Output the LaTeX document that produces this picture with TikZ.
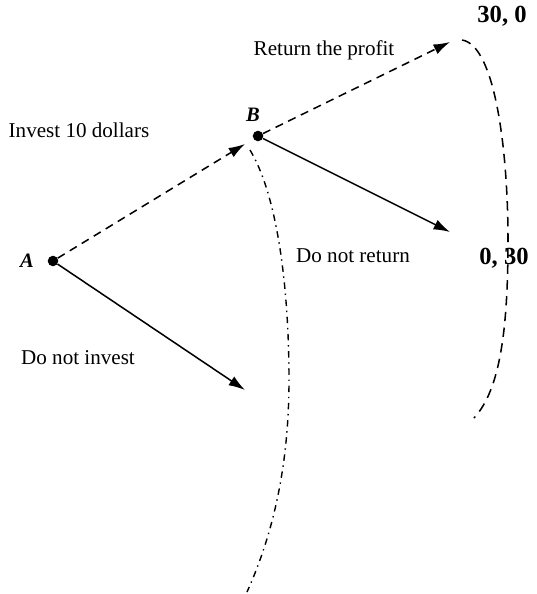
\documentclass[tikz,border=0pt]{standalone}
\usepackage{fontspec}
\setmainfont{Liberation Serif}
\usetikzlibrary{arrows.meta,positioning}
\tikzset{
    decision/.style={circle, fill, inner sep=0pt, minimum size=9pt},
    movelbl/.style={font=\fontsize{18}{21}\selectfont},
    playerlbl/.style={font=\fontsize{17.5}{20}\selectfont\bfseries\itshape},
    payoff/.style={font=\fontsize{21}{24}\selectfont\bfseries},
    solidarr/.style={-{Latex[length=14pt,width=9pt]}, line width=1.3pt},
    dashedarr/.style={-{Latex[length=14pt,width=9pt]}, line width=1.3pt, dash pattern=on 7pt off 5pt},
    infoset/.style={line width=1.3pt, dash pattern=on 8pt off 5.5pt},
    dashdotline/.style={line width=1.2pt, dash pattern=on 5.5pt off 4pt on 1.2pt off 4pt},
}
\begin{document}
\begin{tikzpicture}[x=0.03cm, y=-0.03cm]
\useasboundingbox (0,0) rectangle (536,594);
% decision nodes
\node[decision] (A) at (53,261) {};
\node[decision] (B) at (258,136) {};
\node[playerlbl] (Alab) at (27,261) {A};
\node[playerlbl] (Blab) at (253,115) {B};
% arrow ends
\coordinate (invEnd) at (245,144);
\coordinate (noinvEnd) at (245,390);
\coordinate (retEnd) at (450,42);
\coordinate (noretEnd) at (450,232);
% payoffs
\node[payoff] (pay1) at (502,16) {30, 0};
\node[payoff] (pay2) at (504,258) {0, 30};

\draw[dashedarr] (A) -- (invEnd);
\draw[solidarr] (A) -- (noinvEnd);
\draw[dashedarr] (B) -- (retEnd);
\draw[solidarr] (B) -- (noretEnd);

\node[movelbl] (inv) at (79,130) {Invest 10 dollars};
\node[movelbl] (noinv) at (78,358) {Do not invest};
\node[movelbl] (ret) at (324,50) {Return the profit};
\node[movelbl] (noret) at (353,256) {Do not return};

% curves
\coordinate (c1s) at (462,40);
\coordinate (c1m) at (508,240);
\coordinate (c1e) at (474,418);
\draw[infoset] (c1s) .. controls (495,45) and (508,150) .. (c1m)
  .. controls (508,330) and (500,390) .. (c1e);
\coordinate (c2s) at (250,150);
\coordinate (c2m) at (289,380);
\coordinate (c2e) at (247,592);
\draw[dashdotline] (c2s) .. controls (280,200) and (289,300) .. (c2m)
  .. controls (289,460) and (275,530) .. (c2e);
\end{tikzpicture}
\end{document}
